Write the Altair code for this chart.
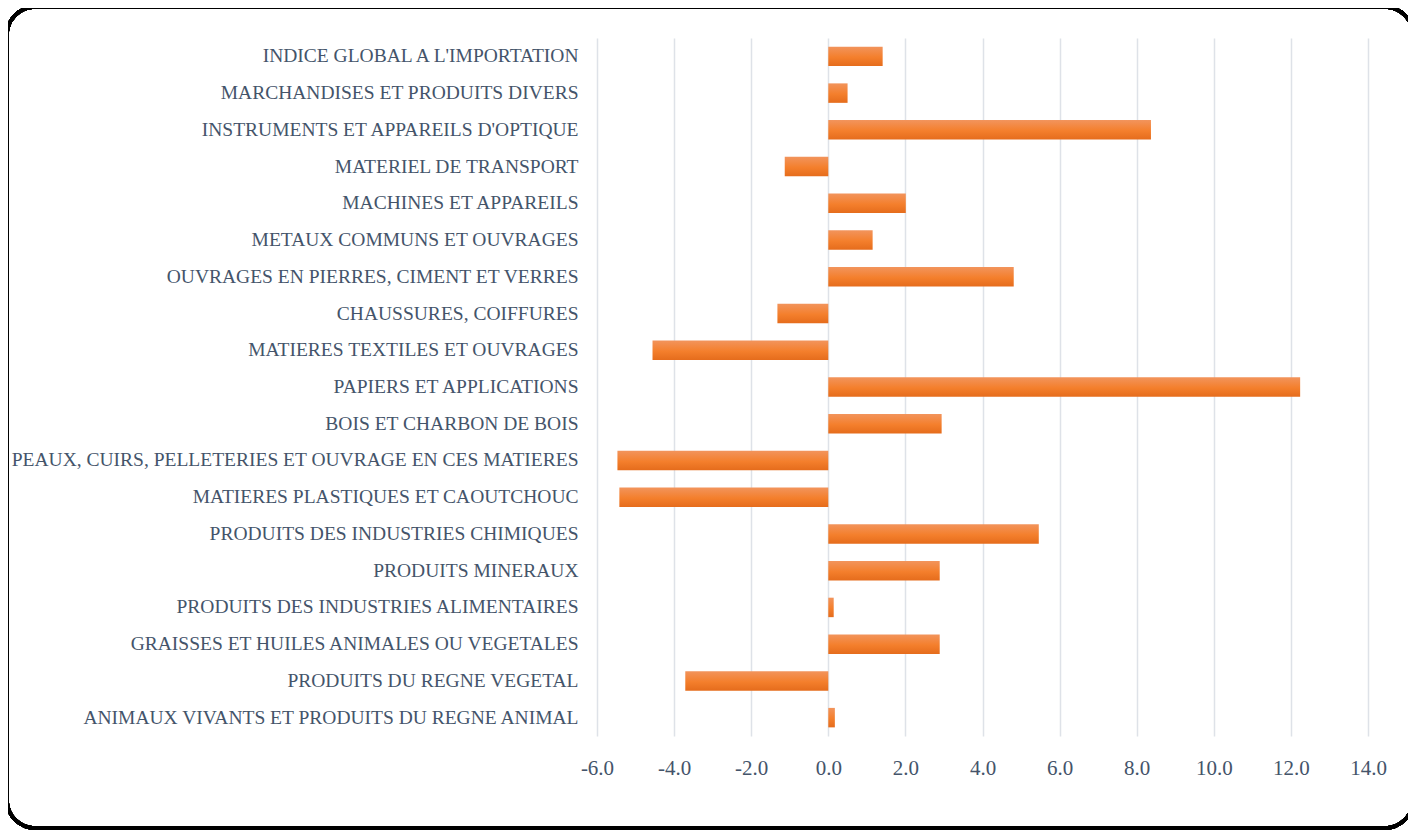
import altair as alt
import pandas as pd

categories = [
    "INDICE GLOBAL A L'IMPORTATION",
    "MARCHANDISES ET PRODUITS DIVERS",
    "INSTRUMENTS ET APPAREILS D'OPTIQUE",
    "MATERIEL DE TRANSPORT",
    "MACHINES ET APPAREILS",
    "METAUX COMMUNS ET OUVRAGES",
    "OUVRAGES EN PIERRES, CIMENT ET VERRES",
    "CHAUSSURES, COIFFURES",
    "MATIERES TEXTILES ET OUVRAGES",
    "PAPIERS ET APPLICATIONS",
    "BOIS ET CHARBON DE BOIS",
    "PEAUX, CUIRS, PELLETERIES ET OUVRAGE EN CES MATIERES",
    "MATIERES PLASTIQUES ET CAOUTCHOUC",
    "PRODUITS DES INDUSTRIES CHIMIQUES",
    "PRODUITS MINERAUX",
    "PRODUITS DES INDUSTRIES ALIMENTAIRES",
    "GRAISSES ET HUILES ANIMALES OU VEGETALES",
    "PRODUITS DU REGNE VEGETAL",
    "ANIMAUX VIVANTS ET PRODUITS DU REGNE ANIMAL",
]
values = [1.41, 0.50, 8.37, -1.13, 2.01, 1.15, 4.81, -1.32, -4.56, 12.24,
          2.94, -5.47, -5.42, 5.46, 2.89, 0.14, 2.89, -3.71, 0.17]
x_ticks = [-6, -4, -2, 0, 2, 4, 6, 8, 10, 12, 14]

df = pd.DataFrame({"cat": categories, "val": values})

FONT = "Liberation Serif"
TXT = "#44546A"

grad = alt.Gradient(
    gradient="linear",
    stops=[alt.GradientStop(color="#F2945C", offset=0),
           alt.GradientStop(color="#F47F2C", offset=0.55),
           alt.GradientStop(color="#E56C1C", offset=1)],
    x1=0, x2=0, y1=0, y2=1,
)

bars = alt.Chart(df).mark_bar(color=grad).encode(
    x=alt.X("val:Q", scale=alt.Scale(domain=[-6, 14], nice=False),
            axis=alt.Axis(values=x_ticks, format=".1f", title=None,
                          labelExpr="replace(datum.label, '\u2212', '-')",
                          grid=True, gridColor="#DEE2E8", gridWidth=1.5,
                          domain=False, ticks=False, labelPadding=21,
                          labelFlush=False,
                          labelFont=FONT, labelFontSize=21, labelColor=TXT)),
    y=alt.Y("cat:N", sort=categories,
            scale=alt.Scale(paddingInner=0.47, paddingOuter=0.235),
            axis=alt.Axis(title=None, domain=False, ticks=False, grid=False,
                          labelPadding=19, labelLimit=700,
                          labelFont=FONT, labelFontSize=19.5, labelColor=TXT)),
)

frame = alt.Chart(df).mark_rect(
    fill=None, stroke="black", strokeWidth=3.5, cornerRadius=28, clip=False
).encode(
    x=alt.value(-590), x2=alt.value(816),
    y=alt.value(-31), y2=alt.value(790),
)

chart = alt.layer(frame, bars).properties(
    width=771, height=698,
    background="white",
    autosize=alt.AutoSizeParams(type="none"),
    padding={"left": 589, "top": 30, "right": 40, "bottom": 95},
).configure_view(strokeWidth=0, stroke="transparent")

chart.save("out.html", embed_options={"renderer": "svg", "actions": False})
